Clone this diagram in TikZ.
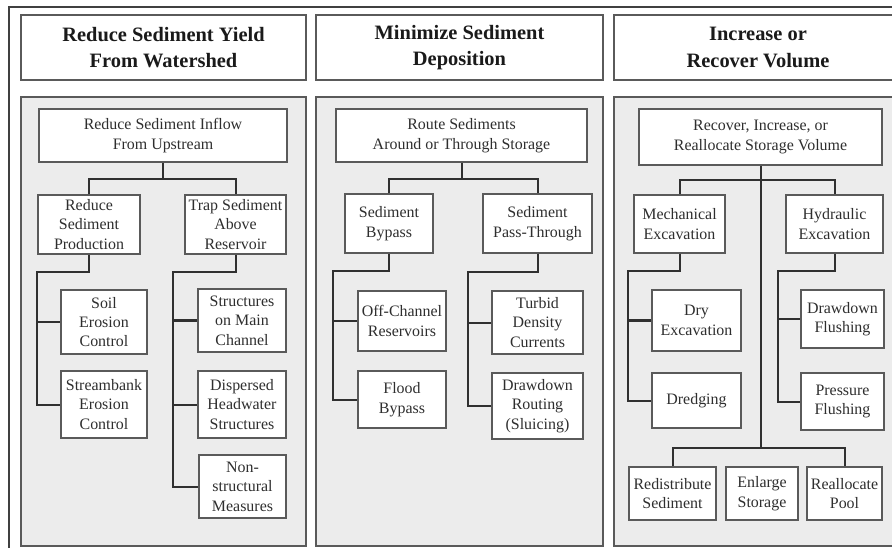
\documentclass[tikz,border=0pt]{standalone}
\usepackage{fontspec}
\setmainfont{Liberation Serif}
\definecolor{boxc}{HTML}{5A5A5A}
\definecolor{connc}{HTML}{303030}
\definecolor{panfill}{HTML}{ECECEC}
\definecolor{framec}{HTML}{404040}
\definecolor{txtc}{HTML}{2E2E2E}
\definecolor{headc}{HTML}{1A1A1A}
\tikzset{
  box/.style={draw=boxc, fill=white, line width=1.3bp, inner sep=0pt, align=center,
    font=\fontsize{16}{19.5}\selectfont, text=txtc},
  headbox/.style={draw=boxc, fill=white, line width=1.3bp, inner sep=0pt, align=center,
    font=\fontsize{20.5}{26.5}\selectfont\bfseries, text=headc},
  panel/.style={draw=boxc, fill=panfill, line width=1.3bp, inner sep=0pt},
  conn/.style={draw=connc, line width=2bp, line join=miter},
  frame/.style={draw=framec, line width=1.5bp}
}
\newcommand\bx[7][box]{\node[#1, minimum width={(#5-#3)*1bp}, minimum height={(#6-#4)*1bp}] (#2) at ({(#3+#5)/2},{(#4+#6)/2}) {#7};}
\begin{document}
\begin{tikzpicture}[x=1bp,y=-1bp]
\useasboundingbox (0,0) rectangle (892,548);
\clip (0,0) rectangle (892,548);
% outer frame
\draw[frame] (9,548) -- (9,7) -- (900,7);
% headers
\bx[headbox]{H1}{21}{15}{306}{80}{Reduce Sediment Yield\\From Watershed}
\bx[headbox]{H2}{316}{15}{603}{80}{Minimize Sediment\\Deposition}
\bx[headbox]{H3}{614}{15}{902}{80}{Increase or\\Recover Volume}
% panels
\bx[panel]{P1}{21}{97}{306}{546}{}
\bx[panel]{P2}{316}{97}{603}{546}{}
\bx[panel]{P3}{614}{97}{902}{546}{}
% ---------- left column
\bx{L0}{39}{109}{287}{162}{Reduce Sediment Inflow\\From Upstream}
\bx{L1}{38}{195}{140}{254}{Reduce\\Sediment\\Production}
\bx{L2}{185}{195}{286}{254}{Trap Sediment\\Above\\Reservoir}
\bx{L11}{61}{290}{147}{354}{Soil\\Erosion\\Control}
\bx{L12}{61}{371}{147}{438}{Streambank\\Erosion\\Control}
\bx{L21}{198}{289}{286}{352}{Structures\\on Main\\Channel}
\bx{L22}{198}{371}{286}{438}{Dispersed\\Headwater\\Structures}
\bx{L23}{199}{455}{286}{518}{Non-\\structural\\Measures}
\coordinate (L0j) at (163,179);
\coordinate (L1b) at (37,272);
\coordinate (L2b) at (173,272);
\draw[conn] (L0.south) -- (L0j);
\draw[conn] (L1.north) |- (L0j) -| (L2.north);
\draw[conn] (L1.south) |- (L1b) |- (L12.west);
\draw[conn] (L1b |- L11.west) -- (L11.west);
\draw[conn] (L2.south) |- (L2b) |- (L23.west);
\draw[conn] (L2b |- L21.west) -- (L21.west);
\draw[conn] (L2b |- L22.west) -- (L22.west);
% ---------- middle column
\bx{M0}{336}{109}{587}{162}{Route Sediments\\Around or Through Storage}
\bx{M1}{345}{194}{433}{253}{Sediment\\Bypass}
\bx{M2}{483}{194}{592}{253}{Sediment\\Pass-Through}
\bx{M11}{358}{291}{446}{351}{Off-Channel\\Reservoirs}
\bx{M12}{358}{371}{446}{428}{Flood\\Bypass}
\bx{M21}{492}{291}{583}{354}{Turbid\\Density\\Currents}
\bx{M22}{492}{373}{583}{439}{Drawdown\\Routing\\(Sluicing)}
\coordinate (M0j) at (461.5,179);
\coordinate (M1b) at (333,271);
\coordinate (M2b) at (468,272);
\draw[conn] (M0.south) -- (M0j);
\draw[conn] (M1.north) |- (M0j) -| (M2.north);
\draw[conn] (M1.south) |- (M1b) |- (M12.west);
\draw[conn] (M1b |- M11.west) -- (M11.west);
\draw[conn] (M2.south) |- (M2b) |- (M22.west);
\draw[conn] (M2b |- M21.west) -- (M21.west);
% ---------- right column
\bx{R0}{639}{109}{882}{165}{Recover, Increase, or\\Reallocate Storage Volume}
\bx{R1}{634}{195}{725}{253}{Mechanical\\Excavation}
\bx{R2}{786}{195}{883}{253}{Hydraulic\\Excavation}
\bx{R11}{652}{290}{741}{351}{Dry\\Excavation}
\bx{R12}{652}{373}{741}{428}{Dredging}
\bx{R21}{801}{290}{884}{348}{Drawdown\\Flushing}
\bx{R22}{801}{373}{884}{430}{Pressure\\Flushing}
\bx{R31}{629}{467}{716}{520}{Redistribute\\Sediment}
\bx{R32}{726}{467}{798}{520}{Enlarge\\Storage}
\bx{R33}{807}{467}{882}{520}{Reallocate\\Pool}
\coordinate (R0j) at (760.5,180);
\coordinate (R1b) at (628,271);
\coordinate (R2b) at (778,271);
\coordinate (R0k) at (760.5,448);
\draw[conn] (R0.south) -- (R0k);
\draw[conn] (R1.north) |- (R0j) -| (R2.north);
\draw[conn] (R1.south) |- (R1b) |- (R12.west);
\draw[conn] (R1b |- R11.west) -- (R11.west);
\draw[conn] (R2.south) |- (R2b) |- (R22.west);
\draw[conn] (R2b |- R21.west) -- (R21.west);
\draw[conn] (R31.north) |- (R0k) -| (R33.north);
\end{tikzpicture}
\end{document}
